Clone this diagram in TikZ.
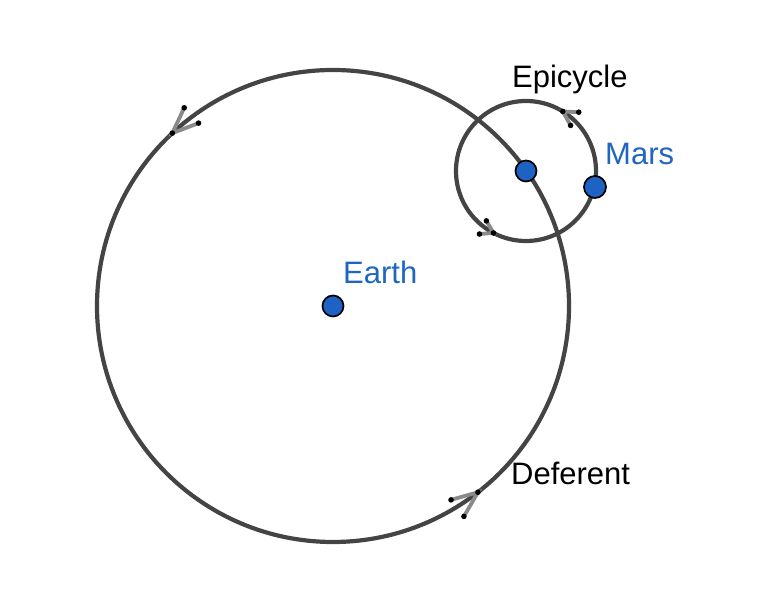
\documentclass[tikz,border=0pt]{standalone}
\usepackage{fontspec}
\setmainfont{Liberation Sans}
\usetikzlibrary{calc}
\definecolor{orbit}{HTML}{444444}
\definecolor{planet}{HTML}{1E63C4}
\definecolor{labelblue}{HTML}{1F66C1}
\definecolor{chevgray}{HTML}{8A8A8A}

\begin{document}
\begin{tikzpicture}[x=1pt,y=1pt,
      body/.style={circle,draw=black,line width=1.7pt,fill=planet,
                   minimum size=21pt,inner sep=0pt},
      orbitline/.style={draw=orbit,line width=4.2pt},
      chevarm/.style={draw=chevgray,line width=3.8pt,line cap=round},
      caption/.style={anchor=base west,inner sep=0pt,
                      font=\fontsize{31}{36}\selectfont},
      bluecap/.style={caption,text=labelblue}]
    \useasboundingbox (0,0) rectangle (772,604);
    % centres
    \coordinate (earthc) at (333,298);
    \coordinate (epic) at (526,433);
    % deferent and epicycle
    \draw[orbitline] (earthc) circle[radius=236];
    \draw[orbitline] (epic) circle[radius=70];
    % direction marks (counterclockwise)
    \foreach \c/\r/\a/\l/\s in {earthc/236/132.9/28/22, earthc/236/-52.1/28/22,
                                epic/70/58.3/16/29, epic/70/242.3/14/32} {
      \coordinate (tip) at ($(\c)+(\a:\r)$);
      \coordinate (armA) at ($(tip)+({\a-90+\s}:\l)$);
      \coordinate (armB) at ($(tip)+({\a-90-\s}:\l)$);
      \draw[chevarm] (armA) -- (tip) -- (armB);
      \foreach \p in {tip,armA,armB}
        \fill[black] (\p) circle[radius=2.8];
    }
    % bodies
    \node[body] (earth) at (earthc) {};
    \node[body] (centre) at (epic) {};
    \node[body,minimum size=22pt] (mars) at (595,417) {};
    % labels
    \node[bluecap] (earthlbl) at (343,320) {Earth};
    \node[bluecap] (marslbl) at (605,439) {Mars};
    \node[caption] (epilbl) at (512,516) {Epicycle};
    \node[caption] (deflbl) at (511,119) {Deferent};
  \end{tikzpicture}
\end{document}
